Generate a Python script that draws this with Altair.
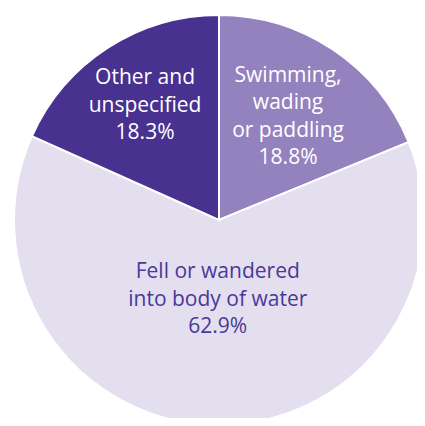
import altair as alt
import pandas as pd

# Data
categories = ["Swimming, wading or paddling", "Fell or wandered into body of water", "Other and unspecified"]
label_lines = [["Swimming,", "wading", "or paddling"], ["Fell or wandered", "into body of water"], ["Other and", "unspecified"]]
shares = [18.8, 62.9, 18.3]

# Styles
slice_colors = ["#9482BE", "#E3DFEF", "#48318F"]
text_colors = ["#FFFFFF", "#4A389A", "#FFFFFF"]
label_radius = [124, 80, 136]
LH = 27.5

df = pd.DataFrame({
    "category": categories,
    "share": shares,
    "idx": list(range(len(categories))),
    "label": ["\n".join(lines + [f"{s:.1f}%"]) for lines, s in zip(label_lines, shares)],
})

base = alt.Chart(df).encode(
    theta=alt.Theta("share:Q", stack=True),
    order=alt.Order("idx:Q"),
    detail="category:N",
)

pie = base.mark_arc(radius=205, stroke="white", strokeWidth=2).encode(
    color=alt.Color("category:N", scale=alt.Scale(domain=categories, range=slice_colors), legend=None)
)

layers = [pie]
for i in range(len(categories)):
    n_lines = len(label_lines[i]) + 1
    t = base.transform_calculate(
        txt=f"datum.idx == {i} ? datum.label : ''"
    ).mark_text(
        radius=label_radius[i], color=text_colors[i], font="Open Sans", fontSize=21,
        lineBreak="\n", lineHeight=LH, align="center", baseline="middle",
        dy=-(n_lines - 1) * LH / 2,
    ).encode(text="txt:N")
    layers.append(t)

chart = alt.layer(*layers).properties(
    width=410, height=410,
    autosize=alt.AutoSizeParams(type="none"),
    padding={"left": 6, "top": 7, "right": -7, "bottom": -7},
).configure_view(stroke=None)

chart.save("out.html", embed_options={"renderer": "svg", "actions": False})
